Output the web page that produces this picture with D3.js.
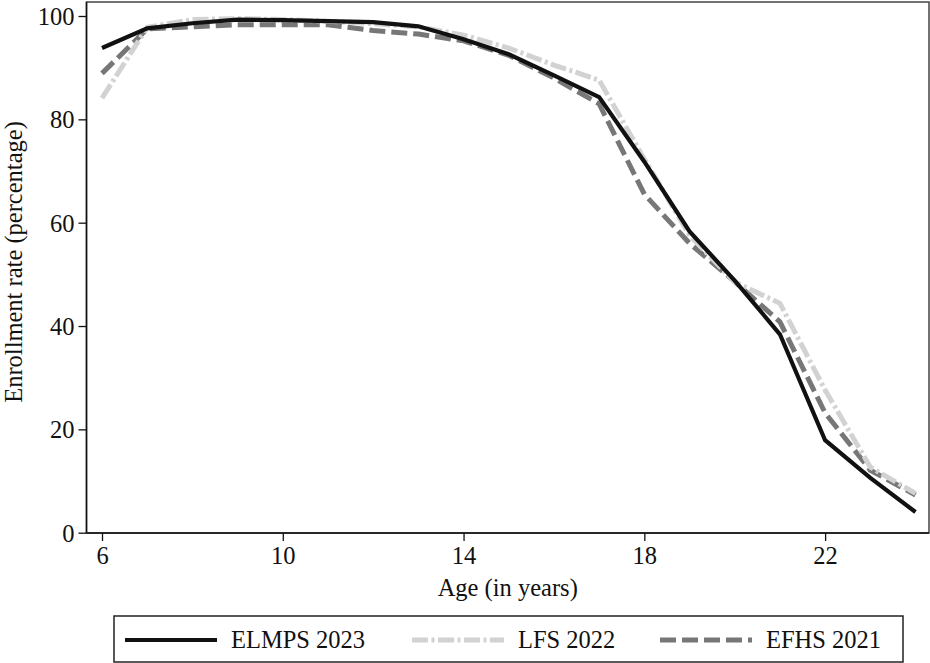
<!DOCTYPE html>
<html>
<head>
<meta charset="utf-8">
<script src="https://cdn.jsdelivr.net/npm/d3@7"></script>
<style>
  html, body { margin: 0; padding: 0; background: #fff; }
  svg { display: block; font-family: "Liberation Serif", "Times New Roman", serif; }
</style>
</head>
<body>
<svg id="chart" width="930" height="663"></svg>
<script>
// Enrollment rate by age, three surveys
const ages = [6, 7, 8, 9, 10, 11, 12, 13, 14, 15, 16, 17, 18, 19, 20, 21, 22, 23, 24];
const elmps2023 = [93.8, 97.6, 98.6, 99.3, 99.2, 99.0, 98.8, 98.0, 95.5, 92.6, 88.5, 84.3, 71.8, 58.3, 48.8, 38.4, 17.9, 10.6, 4.0];
const lfs2022   = [84.1, 97.8, 99.3, 99.5, 99.3, 99.0, 98.5, 97.9, 96.3, 93.8, 90.5, 87.6, 72.3, 57.6, 48.5, 44.4, 27.6, 12.7, 7.6];
const efhs2021  = [88.9, 97.5, 97.9, 98.3, 98.3, 98.3, 97.2, 96.5, 95.2, 92.4, 88.0, 83.0, 65.5, 56.0, 48.6, 40.8, 23.2, 12.1, 7.3];
const xTicks = [6, 10, 14, 18, 22];
const yTicks = [0, 20, 40, 60, 80, 100];

const seriesList = [
  { name: "ELMPS 2023", values: elmps2023, color: "#111111", width: 4.2, dash: null },
  { name: "LFS 2022",   values: lfs2022,   color: "#d2d2d2", width: 5,   dash: "16 3.5 3 3.5" },
  { name: "EFHS 2021",  values: efhs2021,  color: "#777777", width: 5,   dash: "16 6" }
];

const FONT = 24.5;
const svg = d3.select("#chart");
const plotLeft = 86.5, plotRight = 929, plotTop = 2, plotBottom = 533;

const x = d3.scaleLinear().domain([6, 24]).range([102, 915.5]);
const y = d3.scaleLinear().domain([0, 100]).range([532.7, 16]);

// plot region outline
svg.append("rect")
  .attr("x", plotLeft).attr("y", plotTop)
  .attr("width", plotRight - plotLeft).attr("height", plotBottom - plotTop)
  .attr("fill", "none").attr("stroke", "#444").attr("stroke-width", 1.5);

// series lines (drawn back to front so the solid line sits on top)
const line = d3.line()
  .x((d, i) => x(ages[i]))
  .y(d => y(d));

const plot = svg.append("g");
[seriesList[2], seriesList[1], seriesList[0]].forEach(s => {
  plot.append("path")
    .datum(s.values)
    .attr("d", line)
    .attr("fill", "none")
    .attr("stroke", s.color)
    .attr("stroke-width", s.width)
    .attr("stroke-dasharray", s.dash)
    .attr("stroke-linejoin", "miter");
});

// axes
const yAxis = d3.axisLeft(y).tickValues(yTicks).tickSize(8).tickPadding(4).tickFormat(d3.format("d"));
const gy = svg.append("g").attr("transform", `translate(${plotLeft},0)`).call(yAxis);
gy.select(".domain").attr("stroke", "#111").attr("stroke-width", 1.5).attr("d", `M0,${plotTop}V${plotBottom}`);
gy.selectAll(".tick line").attr("stroke", "#111").attr("stroke-width", 1.3);
gy.selectAll(".tick text").attr("font-size", FONT).attr("fill", "#111")
  .attr("font-family", "Liberation Serif, Times New Roman, serif").attr("dy", "0.34em");

const xAxis = d3.axisBottom(x).tickValues(xTicks).tickSize(8).tickPadding(6).tickFormat(d3.format("d"));
const gx = svg.append("g").attr("transform", `translate(0,${plotBottom})`).call(xAxis);
gx.select(".domain").attr("stroke", "#111").attr("stroke-width", 1.5).attr("d", `M${plotLeft},0H${plotRight}`);
gx.selectAll(".tick line").attr("stroke", "#111").attr("stroke-width", 1.3);
gx.selectAll(".tick text").attr("font-size", FONT).attr("fill", "#111")
  .attr("font-family", "Liberation Serif, Times New Roman, serif");

// axis titles
svg.append("text")
  .attr("x", (plotLeft + plotRight) / 2).attr("y", 596)
  .attr("text-anchor", "middle").attr("font-size", FONT).attr("fill", "#111")
  .text("Age (in years)");

svg.append("text")
  .attr("transform", `translate(22,262) rotate(-90)`)
  .attr("text-anchor", "middle").attr("font-size", FONT).attr("fill", "#111")
  .text("Enrollment rate (percentage)");

// legend
const legend = svg.append("g");
legend.append("rect")
  .attr("x", 114).attr("y", 616).attr("width", 789).attr("height", 46)
  .attr("fill", "#fff").attr("stroke", "#222").attr("stroke-width", 1.5);

const legendX = [125, 412, 660];
seriesList.forEach((s, i) => {
  const g = legend.append("g").attr("transform", `translate(${legendX[i]},0)`);
  g.append("line")
    .attr("x1", 0).attr("x2", 92).attr("y1", 640).attr("y2", 640)
    .attr("stroke", s.color).attr("stroke-width", s.width)
    .attr("stroke-dasharray", s.dash);
  g.append("text")
    .attr("x", 106).attr("y", 648)
    .attr("font-size", FONT).attr("fill", "#111")
    .text(s.name);
});
</script>
</body>
</html>
